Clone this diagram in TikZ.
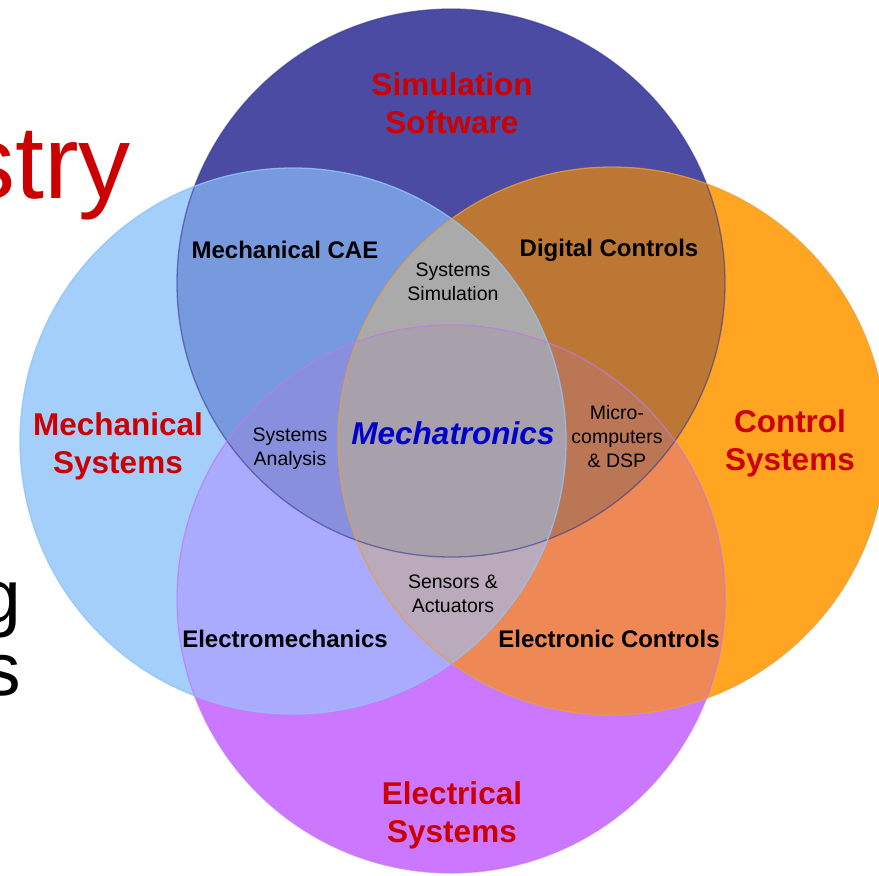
\documentclass[tikz,border=0pt]{standalone}
\usepackage{fontspec}
\setmainfont{Liberation Sans}
\definecolor{cT}{HTML}{4B4BA3}
\definecolor{cL}{HTML}{A3CFFA}
\definecolor{cR}{HTML}{FFA521}
\definecolor{cB}{HTML}{CC77FF}
\definecolor{cTL}{HTML}{7799DD}
\definecolor{cTR}{HTML}{BB7733}
\definecolor{cLB}{HTML}{AAAAFF}
\definecolor{cRB}{HTML}{EE8855}
\definecolor{cTLR}{HTML}{AAAAAA}
\definecolor{cTLB}{HTML}{8890DD}
\definecolor{cTRB}{HTML}{BB7755}
\definecolor{cLRB}{HTML}{BBAABB}
\definecolor{cAll}{HTML}{A8A0AA}
\definecolor{oT}{HTML}{3A3A95}
\definecolor{oL}{HTML}{90C4F6}
\definecolor{oR}{HTML}{E8A040}
\definecolor{oB}{HTML}{C078F0}
\definecolor{titlered}{HTML}{CC0000}
\definecolor{mechblue}{HTML}{0000CC}
\newcommand\circT{(451,283) circle [radius=274pt]}
\newcommand\circL{(293,441) circle [radius=273pt]}
\newcommand\circR{(612,441) circle [radius=274pt]}
\newcommand\circB{(451,599) circle [radius=274pt]}
\tikzset{
  bigred/.style={font=\bfseries\fontsize{31.5}{38}\selectfont, text=titlered, align=center, inner sep=0pt},
  midlbl/.style={font=\bfseries\fontsize{24}{28}\selectfont, text=black, inner sep=0pt},
  smalllbl/.style={font=\fontsize{19.5}{24}\selectfont, text=black, align=center, inner sep=0pt},
  bgtext/.style={inner sep=0pt, anchor=base east}
}
\begin{document}
\begin{tikzpicture}[x=1pt,y=-1pt]
\useasboundingbox (0,0) rectangle (879,876);
% background slide text
\node[bgtext, text=titlered, font=\fontsize{104}{110}\selectfont] (bg1) at (131,198) {stry};
\node[bgtext, text=black, font=\fontsize{75}{80}\selectfont] (bg2) at (21,622) {g};
\node[bgtext, text=black, font=\fontsize{75}{80}\selectfont] (bg3) at (21,695) {s};
% single circles
\fill[cT] \circT;
\fill[cL] \circL;
\fill[cR] \circR;
\fill[cB] \circB;
% pairs
\begin{scope}\clip \circT; \fill[cTL] \circL; \end{scope}
\begin{scope}\clip \circT; \fill[cTR] \circR; \end{scope}
\begin{scope}\clip \circL; \fill[cLB] \circB; \end{scope}
\begin{scope}\clip \circR; \fill[cRB] \circB; \end{scope}
% triples
\begin{scope}\clip \circT; \clip \circL; \fill[cTLR] \circR; \end{scope}
\begin{scope}\clip \circT; \clip \circL; \fill[cTLB] \circB; \end{scope}
\begin{scope}\clip \circT; \clip \circR; \fill[cTRB] \circB; \end{scope}
\begin{scope}\clip \circL; \clip \circR; \fill[cLRB] \circB; \end{scope}
% all four
\begin{scope}\clip \circT; \clip \circL; \clip \circR; \fill[cAll] \circB; \end{scope}
% outlines
\draw[oT, line width=1.3pt, opacity=0.6] \circT;
\draw[oL, line width=1.3pt, opacity=0.8] \circL;
\draw[oR, line width=1.3pt, opacity=0.7] \circR;
\draw[oB, line width=1.3pt, opacity=0.6] \circB;
% labels
\node[bigred] (sim) at (452,103) {Simulation\\Software};
\node[bigred] (mech) at (118,446) {Mechanical\\Systems};
\node[bigred] (ctrl) at (790,443) {Control\\Systems};
\node[bigred] (elec) at (452,815) {Electrical\\Systems};
\node[font=\bfseries\itshape\fontsize{31.5}{38}\selectfont, text=mechblue, inner sep=0pt] (mtr) at (453,433) {Mechatronics};
\node[midlbl] (cae) at (285,250) {Mechanical CAE};
\node[midlbl] (dig) at (609,250) {Digital Controls};
\node[midlbl] (emech) at (285,639) {Electromechanics};
\node[midlbl] (ectrl) at (609,639) {Electronic Controls};
\node[smalllbl] (ssim) at (453,282) {Systems\\Simulation};
\node[smalllbl] (sana) at (290,449) {Systems\\Analysis};
\node[smalllbl] (micro) at (617,437) {Micro-\\computers\\\& DSP};
\node[smalllbl] (sens) at (453,594) {Sensors \&\\Actuators};
\end{tikzpicture}
\end{document}
